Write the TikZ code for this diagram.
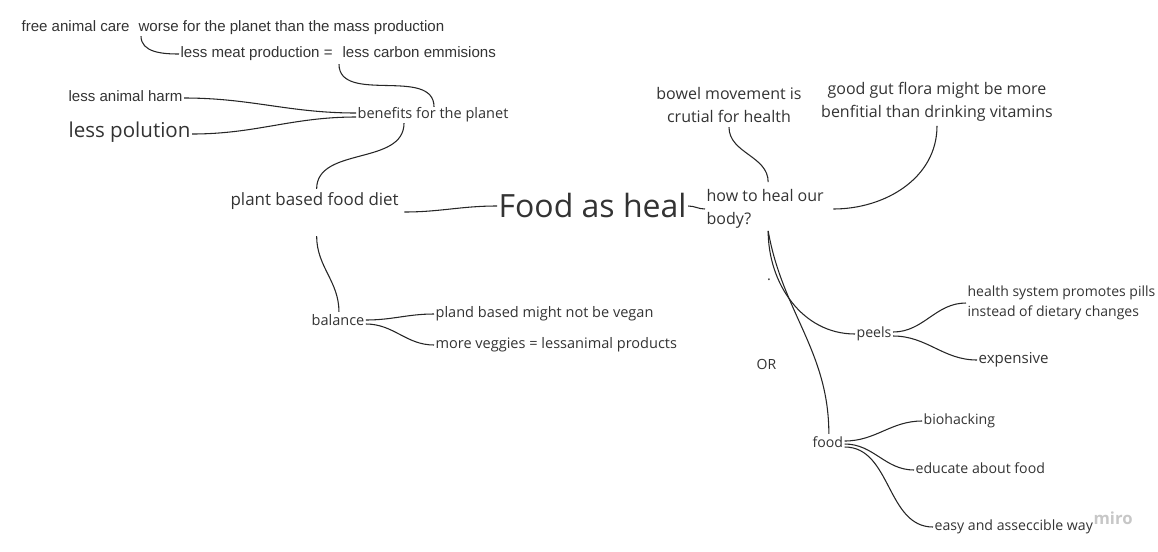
\documentclass[tikz,border=0pt]{standalone}
\usepackage{fontspec}
\setmainfont{Open Sans}
\newfontfamily\arialfont{Liberation Sans}
\usetikzlibrary{calc}
\tikzset{
  note/.style={inner sep=1pt,text=black!80,font=\fontsize{10.9}{13}\selectfont},
  idea/.style={note,text height=0.75em,text depth=0.22em},
  plain/.style={idea,font=\arialfont\fontsize{11.3}{13}\selectfont},
  link/.style={line width=0.8pt,black!85}
}
\begin{document}
\begin{tikzpicture}[x=0.75pt,y=-0.75pt]
  \useasboundingbox (0,0) rectangle (1158,551);
  % Centre
  \node[idea,anchor=west,font=\fontsize{24}{28}\selectfont] (heal) at (497,214) {Food as heal};
  % Left branch: plant based diet
  \node[idea,anchor=west,font=\fontsize{12.7}{15}\selectfont] (plant) at (229,202) {plant based food diet};
  \node[idea,anchor=west] (benefits) at (356,115) {benefits for the planet};
  \node[idea,anchor=west,font=\fontsize{15.4}{18}\selectfont] (polution) at (67,134) {less polution};
  \node[plain,anchor=west] (harm) at (67,98) {less animal harm};
  \node[plain,anchor=west] (meat) at (179,54) {less meat production =};
  \node[plain,anchor=west] (carbon) at (341,54) {less carbon emmisions};
  \node[plain,anchor=west] (care) at (20,28) {free animal care};
  \node[plain,anchor=west] (worse) at (137,28) {worse for the planet than the mass production};
  \node[idea,anchor=west] (balance) at (310,322) {balance};
  \node[idea,anchor=west] (vegan) at (434,314) {pland based might not be vegan};
  \node[idea,anchor=west] (veggies) at (434,345) {more veggies = lessanimal products};
  % Right branch: healing the body
  \node[note,anchor=west,align=left,font=\fontsize{12}{17}\selectfont] (how) at (705,209) {how to heal our\\body?};
  \node[note,align=center,font=\fontsize{12}{17}\selectfont] (bowel) at (729,105) {bowel movement is\\crutial for health};
  \node[note,align=center,font=\fontsize{12}{17}\selectfont] (gut) at (937,102) {good gut flora might be more\\benfitial than drinking vitamins};
  \node[idea,anchor=west,font=\fontsize{10.6}{13}\selectfont] (peels) at (855,334) {peels};
  \node[note,anchor=west,align=left,font=\fontsize{10.5}{15}\selectfont] (pills) at (966,303) {health system promotes pills\\instead of dietary changes};
  \node[idea,anchor=west,font=\fontsize{11.3}{13}\selectfont] (expensive) at (977,360) {expensive};
  \node[idea,anchor=west,font=\fontsize{10.5}{13}\selectfont] (orword) at (755,366) {OR};
  \node[note,inner sep=0pt] (dot) at (769,280) {.};
  \node[idea,anchor=west,font=\fontsize{10.6}{13}\selectfont] (food) at (811,444) {food};
  \node[idea,anchor=west,font=\fontsize{10.6}{13}\selectfont] (biohack) at (922,421) {biohacking};
  \node[idea,anchor=west,font=\fontsize{10.6}{13}\selectfont] (educate) at (914,470) {educate about food};
  \node[idea,anchor=west,font=\fontsize{10.6}{13}\selectfont] (easy) at (933,527) {easy and asseccible way};
  \node[idea,anchor=west,text=black!22,font=\bfseries\fontsize{12.5}{15}\selectfont] (miro) at (1092,521) {miro};
  % Connectors, left
  \draw[link] ($(worse.south west)+(4,0)$) to[out=-90,in=180] (meat.west);
  \draw[link] ($(carbon.south west)+(-2,2)$) to[out=-90,in=90] ($(benefits.north)+(1,0)$);
  \draw[link] (harm.east) to[out=0,in=180] ($(benefits.west)+(0,-2)$);
  \draw[link] (polution.east) to[out=0,in=180] ($(benefits.west)+(0,2)$);
  \draw[link] ($(benefits.south)+(-29,0)$) to[out=-90,in=90] ($(plant.north)+(2,-5)$);
  \draw[link] ($(plant.east)+(4,10)$) to[out=0,in=180] ($(heal.west)+(0,-8)$);
  \draw[link] ($(plant.south)+(2,26)$) to[out=-90,in=90] ($(balance.north)+(1,-2)$);
  \draw[link] ($(balance.east)+(0,-2)$) to[out=0,in=180] (vegan.west);
  \draw[link] ($(balance.east)+(0,2)$) to[out=0,in=180] (veggies.west);
  % Connectors, right
  \draw[link] ($(heal.east)+(0,-8)$) to[out=0,in=180] (how.west);
  \draw[link] ($(bowel.south)+(0,3)$) to[out=-90,in=90] ($(how.north)+(3,-6)$);
  \draw[link] ($(gut.south)+(0,3)$) to[out=-90,in=0] ($(how.east)+(8,0)$);
  \draw[link] ($(how.south)+(3,1)$) to[out=-90,in=180] (peels.west);
  \draw[link] ($(how.south)+(3,1)$) to[out=-80,in=90] ($(food.north)+(1,-2)$);
  \draw[link] ($(peels.east)+(0,-2)$) to[out=0,in=180] (pills.west);
  \draw[link] ($(peels.east)+(0,2)$) to[out=0,in=180] (expensive.west);
  \draw[link] ($(food.east)+(0,-3)$) to[out=0,in=180] (biohack.west);
  \draw[link] ($(food.east)+(0,0)$) to[out=0,in=180] (educate.west);
  \draw[link] ($(food.east)+(0,3)$) to[out=0,in=180] (easy.west);
\end{tikzpicture}
\end{document}
